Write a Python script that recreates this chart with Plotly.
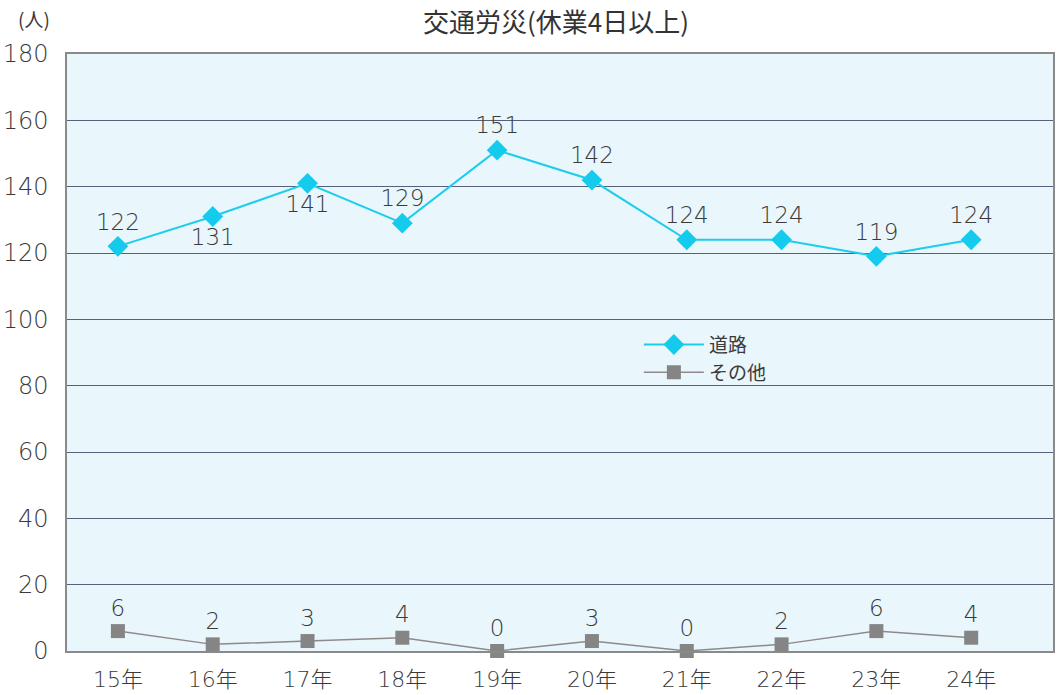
import plotly.graph_objects as go

# Annual counts of commuting-related injuries (4+ days off work)
years = ["15年", "16年", "17年", "18年", "19年", "20年", "21年", "22年", "23年", "24年"]
road = [122, 131, 141, 129, 151, 142, 124, 124, 119, 124]
other = [6, 2, 3, 4, 0, 3, 0, 2, 6, 4]
road_label_pos = ["top center", "bottom center", "bottom center", "top center", "top center",
                  "top center", "top center", "top center", "top center", "top center"]
y_ticks = [0, 20, 40, 60, 80, 100, 120, 140, 160, 180]

FONT = "DejaVu Sans, Noto Sans CJK JP"
CJK = "Noto Sans CJK JP"
TEXT_COLOR = "#3a3a3a"

fig = go.Figure()

fig.add_trace(go.Scatter(
    x=list(range(len(years))), y=road, name="道路",
    mode="lines+markers+text",
    line=dict(color="#1ccdee", width=2),
    marker=dict(symbol="diamond", size=16, color="#14cbee"),
    text=[str(v) for v in road], textposition=road_label_pos,
    textfont=dict(family=FONT, size=23, color=TEXT_COLOR, weight=200),
    cliponaxis=False,
))

fig.add_trace(go.Scatter(
    x=list(range(len(years))), y=other, name="その他",
    mode="lines+markers+text",
    line=dict(color="#8e8a8c", width=1.5),
    marker=dict(symbol="square", size=14, color="#858585"),
    text=[str(v) for v in other], textposition="top center",
    textfont=dict(family=FONT, size=23, color=TEXT_COLOR, weight=200),
    cliponaxis=False,
))

fig.update_layout(
    width=1058, height=695,
    margin=dict(l=67, r=3, t=54, b=37),
    paper_bgcolor="white",
    plot_bgcolor="#e9f6fb",
    font=dict(family=FONT, color=TEXT_COLOR),
    showlegend=True,
    legend=dict(
        x=0.58, y=0.545, xanchor="left", yanchor="top",
        bgcolor="rgba(0,0,0,0)",
        font=dict(family=CJK, size=19, color=TEXT_COLOR),
        itemwidth=60, tracegroupgap=0,
    ),
    xaxis=dict(
        range=[-0.537, 9.863],
        tickmode="array", tickvals=list(range(len(years))), ticktext=years,
        tickfont=dict(family=FONT, size=22, color=TEXT_COLOR, weight=200),
        showgrid=False, zeroline=False,
        showline=True, linecolor="#8a8a8a", linewidth=1.5, mirror=True,
        ticks="", ticklabelstandoff=8,
    ),
    yaxis=dict(
        range=[0, 180],
        tickmode="array", tickvals=y_ticks,
        tickfont=dict(family=FONT, size=24, color=TEXT_COLOR, weight=200),
        showgrid=True, gridcolor="#56607a", gridwidth=1,
        zeroline=False,
        showline=True, linecolor="#8a8a8a", linewidth=1.5, mirror=True,
        ticks="", ticklabelstandoff=12,
    ),
    annotations=[
        dict(text="交通労災(休業4日以上)", xref="paper", yref="paper",
             x=0.496, y=1.0, yshift=54, xanchor="center", yanchor="top",
             showarrow=False, font=dict(family=CJK, size=26, color="#333333")),
        dict(text="(人)", xref="paper", yref="paper",
             x=-0.015, y=1.0, yshift=20, xanchor="right", yanchor="bottom",
             showarrow=False, font=dict(family=CJK, size=19, color=TEXT_COLOR)),
    ],
)

fig.write_html("out.html")
